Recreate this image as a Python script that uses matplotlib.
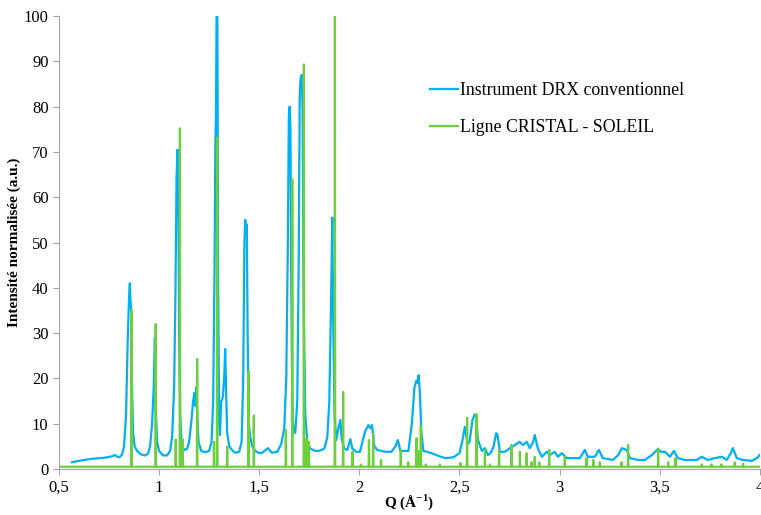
import numpy as np
import matplotlib
matplotlib.use('Agg')
import matplotlib.pyplot as plt

# conventional XRD pattern (Q, normalised intensity)
drx_q = [0.565, 0.60, 0.655, 0.70, 0.73, 0.765, 0.78, 0.795, 0.805, 0.815, 0.825, 0.835, 0.843, 0.850, 0.854,
         0.857, 0.860, 0.864, 0.870, 0.878, 0.89, 0.91, 0.93, 0.945, 0.955, 0.965, 0.973, 0.979, 0.983, 0.99,
         1.0, 1.02, 1.04, 1.055, 1.065, 1.075, 1.082, 1.087, 1.092, 1.096, 1.100, 1.105, 1.112, 1.12, 1.13,
         1.14, 1.150, 1.160, 1.170, 1.176, 1.180, 1.186, 1.190, 1.197, 1.21, 1.23, 1.25, 1.262, 1.270, 1.277,
         1.281, 1.284, 1.287, 1.291, 1.295, 1.300, 1.304, 1.310, 1.314, 1.318, 1.325, 1.330, 1.334, 1.340,
         1.350, 1.364, 1.38, 1.40, 1.412, 1.420, 1.426, 1.430, 1.434, 1.438, 1.442, 1.448, 1.455, 1.465, 1.48,
         1.50, 1.515, 1.543, 1.563, 1.59, 1.610, 1.625, 1.635, 1.643, 1.648, 1.652, 1.656, 1.660, 1.665, 1.672,
         1.680, 1.690, 1.697, 1.702, 1.706, 1.712, 1.716, 1.722, 1.730, 1.740, 1.755, 1.78, 1.80, 1.825, 1.840,
         1.850, 1.858, 1.865, 1.870, 1.876, 1.885, 1.895, 1.905, 1.912, 1.925, 1.940, 1.955, 1.965, 1.985,
         2.003, 2.028, 2.045, 2.055, 2.063, 2.075, 2.09, 2.13, 2.16, 2.18, 2.192, 2.205, 2.245, 2.262, 2.275,
         2.285, 2.290, 2.296, 2.302, 2.310, 2.32, 2.36, 2.40, 2.43, 2.47, 2.50, 2.512, 2.527, 2.540, 2.55,
         2.565, 2.575, 2.583, 2.592, 2.612, 2.627, 2.642, 2.655, 2.670, 2.683, 2.690, 2.702, 2.727, 2.752,
         2.777, 2.800, 2.817, 2.836, 2.851, 2.868, 2.876, 2.891, 2.911, 2.936, 2.951, 2.976, 2.991, 3.011,
         3.036, 3.101, 3.126, 3.141, 3.176, 3.196, 3.216, 3.266, 3.291, 3.311, 3.336, 3.351, 3.391, 3.426,
         3.461, 3.491, 3.506, 3.526, 3.551, 3.571, 3.591, 3.625, 3.685, 3.710, 3.740, 3.775, 3.810, 3.835,
         3.855, 3.865, 3.885, 3.915, 3.960, 3.985, 4.0]
drx_i = [1.5, 1.8, 2.2, 2.4, 2.5, 2.8, 3.1, 2.6, 2.7, 3.2, 5, 12, 28, 38, 41,
         37, 36, 20, 8, 5, 4, 3.2, 3.0, 3.4, 5, 10, 18, 29, 14, 6,
         4, 3, 3.0, 4, 7, 18, 40, 64, 70.5, 62, 30, 12, 6, 4.5, 4.2,
         4.5, 6, 10, 15, 16.8, 14, 18, 12, 6, 4, 3.7, 4, 6, 15, 45,
         72, 78, 100, 100, 40, 10, 7.5, 15, 15.2, 16, 20, 26.5, 18, 8,
         5, 4.2, 3.6, 3.8, 6, 20, 50, 55, 53, 54, 30, 10, 7, 5, 4,
         3.5, 3.6, 4.6, 3.6, 3.8, 5.5, 9, 20, 50, 78, 80, 75, 40, 14, 8,
         8, 15, 45, 82, 86, 87, 80, 35, 12, 6, 4.5, 4.0, 4.0, 4.5, 7,
         15, 35, 55.5, 30, 12, 6.4, 9, 10.8, 6.5, 4.5, 4.2, 6.6, 4.5, 3.8,
         3.8, 8.2, 9.7, 9.0, 9.7, 5, 4.2, 3.8, 3.8, 5, 6.4, 4, 4, 10, 18,
         19.5, 19, 20.7, 17, 8, 4, 3.5, 2.8, 2.4, 2.6, 3.5, 5.7, 9.3, 5.5, 6,
         10.8, 12, 12, 6.4, 4, 4.6, 3.1, 3.5, 4.9, 7.9, 7.5, 3.8, 3.8, 4.6,
         5.3, 6, 5.3, 6, 4.6, 6, 7.5, 4.6, 2.7, 3.8, 3.1, 3.8, 2.7, 3.5,
         2.4, 2.4, 4.2, 2.7, 2.7, 4.2, 2.4, 2.0, 3.0, 4.6, 4.2, 2.4, 2.0, 2.0,
         3.1, 4.4, 3.8, 3.8, 2.7, 4.0, 2.4, 2.0, 2.0, 2.7, 2.0, 2.4, 2.7, 2.0,
         3.5, 4.6, 2.4, 2.0, 1.8, 2.4, 3.1]

# synchrotron (CRISTAL) pattern: sharp peaks (Q, height) on a flat baseline
cristal_peak_q = [0.862, 0.983, 1.083, 1.104, 1.118, 1.190, 1.274, 1.290, 1.340, 1.447, 1.473, 1.633,
                  1.665, 1.723, 1.737, 1.748, 1.878, 1.919, 1.966, 2.008, 2.048, 2.069, 2.108, 2.207,
                  2.244, 2.286, 2.294, 2.307, 2.332, 2.402, 2.505, 2.538, 2.585, 2.627, 2.652, 2.698,
                  2.760, 2.802, 2.835, 2.860, 2.876, 2.898, 2.948, 3.026, 3.134, 3.168, 3.201, 3.309,
                  3.342, 3.492, 3.542, 3.579, 3.710, 3.758, 3.808, 3.875, 3.916]
cristal_peak_i = [35, 32, 6.5, 75.2, 6.5, 24.3, 6, 73.2, 4.9, 21.5, 11.8, 8.6,
                  64, 89.3, 6.8, 6, 100, 17, 3.8, 1, 6.4, 7.7, 2, 4.2,
                  1.5, 6.8, 4, 9.5, 1, 1, 1.3, 11.3, 12.1, 4.2, 1, 4.2,
                  5.3, 3.8, 3.5, 1.5, 2.7, 1.5, 4.2, 2.7, 2.4, 2, 1.5, 1.5,
                  5.3, 4.5, 1.5, 2.4, 1, 1, 1, 1.5, 1.2]
cristal_base = 0.5
q_range = (0.5, 4.0)

labels = ['Instrument DRX conventionnel', 'Ligne CRISTAL - SOLEIL']
blue = '#00B0F0'
green = '#6CCF3C'

plt.rcParams['font.family'] = ['Liberation Serif', 'DejaVu Serif']
plt.rcParams['mathtext.fontset'] = 'custom'
plt.rcParams['mathtext.rm'] = 'Liberation Serif'
plt.rcParams['mathtext.bf'] = 'Liberation Serif:bold'

# build the green stick pattern from the peak list
gq, gi = [q_range[0]], [cristal_base]
hw = 0.0015
for q, h in zip(cristal_peak_q, cristal_peak_i):
    gq += [q - hw, q, q + hw]
    gi += [cristal_base, h, cristal_base]
gq.append(q_range[1])
gi.append(cristal_base)

fig = plt.figure(figsize=(7.61, 5.15), dpi=100)
ax = fig.add_axes([0.0775, 0.0893, 0.921, 0.8796])

ax.plot(drx_q, drx_i, color=blue, lw=1.6, label=labels[0])
ax.plot(gq, gi, color=green, lw=1.6, label=labels[1])

ax.set_xlim(*q_range)
ax.set_ylim(0, 100)
xt = np.arange(0.5, 4.01, 0.5)
ax.set_xticks(xt)
ax.set_xticklabels([('%g' % v).replace('.', ',') for v in xt])
ax.set_yticks(np.arange(0, 101, 10))

for s in ['top', 'right']:
    ax.spines[s].set_visible(False)
for s in ['left', 'bottom']:
    ax.spines[s].set_color('#A6A6A6')
ax.tick_params(axis='both', colors='#A6A6A6', labelcolor='black', labelsize=12, length=4, direction='out')
ax.tick_params(axis='x', pad=4)

ax.set_ylabel('Intensité normalisée (a.u.)', fontsize=11, fontweight='bold', labelpad=2)
ax.set_xlabel(r'Q (Å$^{\mathbf{-1}}$)', fontsize=11, fontweight='bold', labelpad=-3)

ax.legend(loc='upper left', bbox_to_anchor=(0.506, 0.89), frameon=False, fontsize=12.8,
          handlelength=1.6, handletextpad=0.1, labelspacing=1.15)

plt.savefig('out.png', dpi=100)
